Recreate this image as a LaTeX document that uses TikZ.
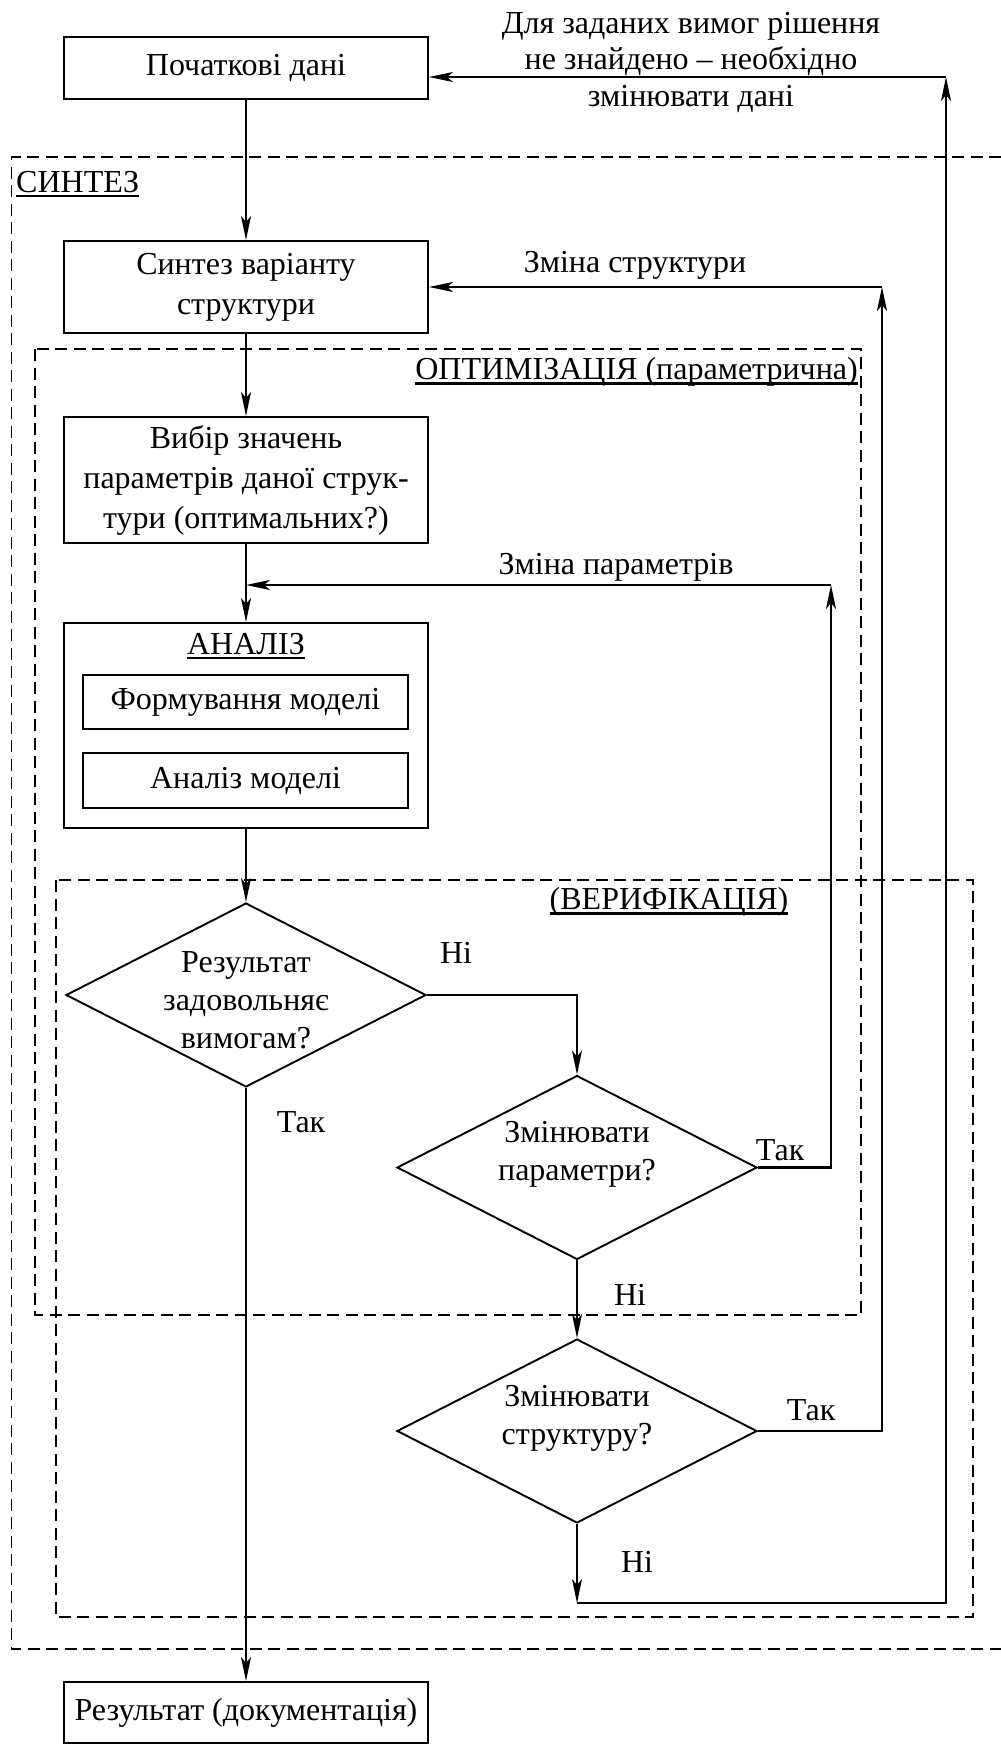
\documentclass[tikz,border=0pt]{standalone}
\usepackage{fontspec}
\setmainfont{LiberationSerif}[Extension=.ttf, UprightFont=*-Regular, BoldFont=*-Bold, ItalicFont=*-Italic, BoldItalicFont=*-BoldItalic]
\usetikzlibrary{arrows.meta,shapes.geometric}
\tikzset{
  txt/.style={font=\rmfamily\fontsize{32}{38}\selectfont, align=center, inner sep=0pt},
  box/.style={draw, line width=2pt, minimum width=364pt, align=center, inner sep=0pt, font=\rmfamily\fontsize{32}{40}\selectfont},
  ibox/.style={draw, line width=2pt, minimum width=325pt, inner sep=0pt, font=\rmfamily\fontsize{32}{40}\selectfont},
  dia/.style={draw, line width=1.9pt, diamond, inner sep=0pt, minimum width=360pt, minimum height=184pt},
  arr/.style={line width=2.1pt, -{Stealth[length=24pt,width=10pt,inset=6pt]}},
  frame/.style={line width=1.7pt, dash pattern=on 12pt off 6.5pt}
}
\newcommand{\ul}[1]{\setbox0\hbox{#1}\leavevmode\rlap{\rule[-5pt]{\wd0}{2.6pt}}\box0}
\begin{document}
\begin{tikzpicture}[x=1pt,y=-1pt]
\useasboundingbox (0,0) rectangle (1001,1754);
\fill[white] (0,0) rectangle (1001,1754);

% dashed frames
\draw[frame] (1001,157) -- (11.5,157) -- (11.5,1649) -- (1001,1649);
\draw[frame] (35,349) rectangle (861,1315);
\draw[frame] (55.7,880) rectangle (973,1617);

% boxes
\node[box, minimum height=62pt] (top) at (246,68) {Початкові дані};
\node[box, minimum height=92pt] (syn) at (246,287) {Синтез варіанту\\структури};
\node[box, minimum height=126pt] (vyb) at (246,480) {Вибір значень\\параметрів даної струк-\\тури (оптимальних?)};
\node[box, minimum height=205pt] (an) at (246,725.5) {};
\node[txt] (antitle) at (246,646) {\ul{АНАЛІЗ}};
\node[ibox, minimum height=54pt] (form) at (245.5,702) {Формування моделі};
\node[ibox, minimum height=55pt] (anm) at (245.5,780.5) {Аналіз моделі};
\node[box, minimum height=61pt] (res) at (246,1712.5) {Результат (документація)};

% decisions
\node[dia] (d1) at (246,995) {};
\node[txt] (d1t) at (246,1000) {Результат\\задовольняє\\вимогам?};
\node[dia] (d2) at (577,1167.5) {};
\node[txt] (d2t) at (577,1154) {Змінювати\\параметри?};
\node[dia] (d3) at (577,1431) {};
\node[txt] (d3t) at (577,1418) {Змінювати\\структуру?};

% labels
\node[txt, anchor=west] (lsyn) at (16,184) {\ul{СИНТЕЗ}};
\node[txt, anchor=east] (lopt) at (858,372) {\ul{ОПТИМІЗАЦІЯ (параметрична)}};
\node[txt] (lver) at (669,902) {\ul{(ВЕРИФІКАЦІЯ)}};
\node[txt, font=\rmfamily\fontsize{32}{36.5}\selectfont] (ldata) at (691,62) {Для заданих вимог рішення\\не знайдено -- необхідно\\змінювати дані};
\node[txt] (lstr) at (635,265) {Зміна структури};
\node[txt] (lpar) at (616,567) {Зміна параметрів};
\node[txt] (n1) at (456,953) {Ні};
\node[txt] (y1) at (301,1122) {Так};
\node[txt] (y2) at (780,1150) {Так};
\node[txt] (n2) at (630,1295) {Ні};
\node[txt] (y3) at (811,1410) {Так};
\node[txt] (n3) at (637,1562) {Ні};

% routing points
\coordinate (rA) at (946,77);
\coordinate (cB) at (577,1603);
\coordinate (sA) at (882,287);
\coordinate (pA) at (831,585);

% main trunk
\draw[arr] (top.south) -- (syn.north);
\draw[arr] (syn.south) -- (vyb.north);
\draw[arr] (vyb.south) -- (an.north);
\draw[arr] (an.south) -- (d1.north);
\draw[arr] (d1.south) -- (res.north);

% branches
\draw[arr] (d1.east) -| (d2.north);
\draw[arr] (d2.south) -- (d3.north);
\draw[arr] (d2.east) -| (pA);
\draw[arr] (pA) -- (pA -| vyb.south);
\draw[arr] (d3.east) -| (sA);
\draw[arr] (sA) -- (syn.east);
\draw[arr] (d3.south) -- (cB);
\draw[arr] (cB) -| (rA);
\draw[arr] (rA) -- (rA -| top.east);
\end{tikzpicture}
\end{document}
